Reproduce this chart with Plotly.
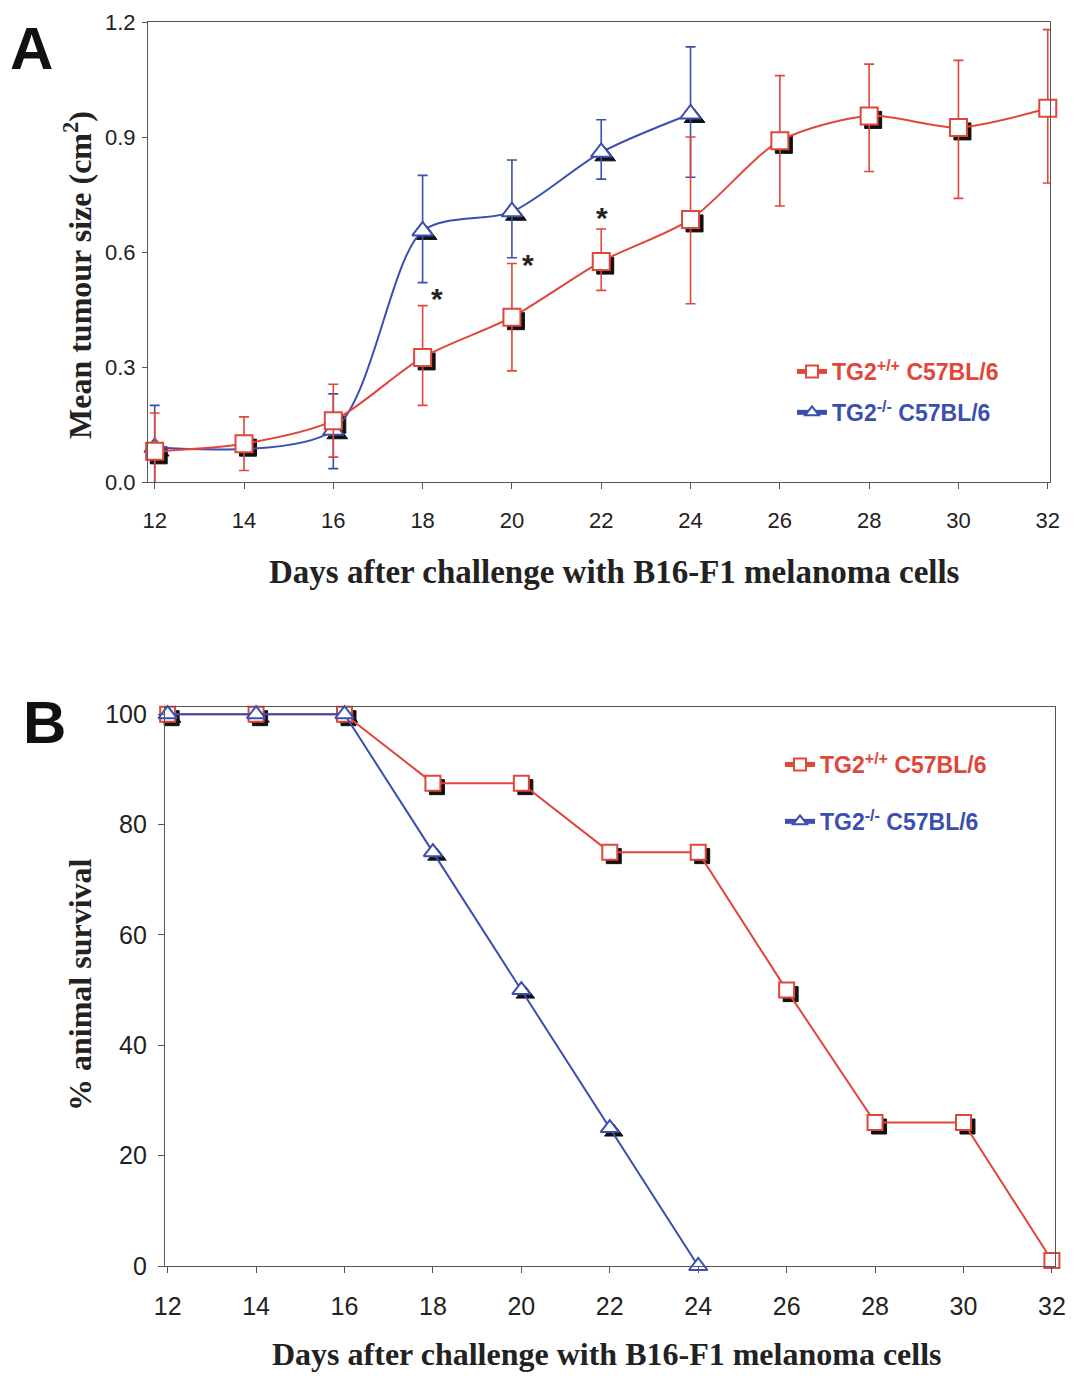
import plotly.graph_objects as go

# ---------------- data ----------------
# Panel A: mean tumour size (cm^2)
days_a = [12, 14, 16, 18, 20, 22, 24, 26, 28, 30, 32]
wt_mean = [0.08, 0.10, 0.16, 0.325, 0.43, 0.575, 0.685, 0.89, 0.955, 0.925, 0.975]
wt_upper = [0.18, 0.17, 0.255, 0.46, 0.57, 0.66, 0.90, 1.06, 1.09, 1.10, 1.18]
wt_lower = [-0.02, 0.03, 0.065, 0.20, 0.29, 0.50, 0.465, 0.72, 0.81, 0.74, 0.78]

ko_days_a = [12, 16, 18, 20, 22, 24]
ko_mean = [0.09, 0.135, 0.655, 0.705, 0.86, 0.96]
ko_upper = [0.20, 0.23, 0.80, 0.84, 0.945, 1.135]
ko_lower = [-0.01, 0.035, 0.52, 0.585, 0.79, 0.795]

# significance marks (day, value)
star_days = [18.32, 20.37, 22.02]
star_vals = [0.488, 0.579, 0.70]

# Panel B: % animal survival
days_b = [12, 14, 16, 18, 20, 22, 24, 26, 28, 30, 32]
wt_surv = [100, 100, 100, 87.5, 87.5, 75, 75, 50, 26, 26, 1]
ko_days_b = [12, 14, 16, 18, 20, 22, 24]
ko_surv = [100, 100, 100, 75, 50, 25, 0]

x_ticks = [12, 14, 16, 18, 20, 22, 24, 26, 28, 30, 32]
ya_ticks = [0.0, 0.3, 0.6, 0.9, 1.2]
yb_ticks = [0, 20, 40, 60, 80, 100]

wt_name = "TG2<sup>+/+</sup> C57BL/6"
ko_name = "TG2<sup>-/-</sup> C57BL/6"

# ---------------- style ----------------
RED = "#E0463A"
BLUE = "#3A4FB0"
OFF = 8                       # page body margin
W, H = 1077 - OFF, 1381 - 2 * OFF
TICKFONT = "Liberation Sans, Arial, sans-serif"
SERIF = "Liberation Serif, Times New Roman, serif"

# pixel boxes (screen coordinates) of the two plot areas
A_box = dict(l=148, r=1050, t=22, b=482)
B_box = dict(l=165, r=1055, t=707, b=1266)
A_xr = [11.85, 32.05]
A_yr = [0.0, 1.2]
B_xr = [11.94, 32.07]
B_yr = [0.0, 101.3]
SH = 4  # shadow offset in px


def px(sx):
    return (sx - OFF) / W


def py(sy):
    return 1 - (sy - OFF) / H


def dom_x(box):
    return [px(box["l"]), px(box["r"])]


def dom_y(box):
    return [py(box["b"]), py(box["t"])]


def shadow_range(xr, yr, box):
    dx = (xr[1] - xr[0]) / (box["r"] - box["l"]) * SH
    dy = (yr[1] - yr[0]) / (box["b"] - box["t"]) * SH
    return [xr[0] - dx, xr[1] - dx], [yr[0] + dy, yr[1] + dy]


fig = go.Figure()

# ---- shadows (base axes, drawn below) ----
sxa, sya = shadow_range(A_xr, A_yr, A_box)
sxb, syb = shadow_range(B_xr, B_yr, B_box)

for xs, ys, sym, xa, ya, sz in [
    (days_a, wt_mean, "square", "x", "y", 17),
    (ko_days_a, ko_mean, "triangle-up", "x", "y", 18),
    (days_b, wt_surv, "square", "x2", "y2", 15),
    (ko_days_b, ko_surv, "triangle-up", "x2", "y2", 16),
]:
    fig.add_trace(go.Scatter(
        x=xs, y=ys, mode="markers", xaxis=xa, yaxis=ya, showlegend=False,
        marker=dict(symbol=sym, size=sz, color="#111111",
                    line=dict(color="#111111", width=1)),
        cliponaxis=False, hoverinfo="skip"))

# ---- panel A ----
fig.add_trace(go.Scatter(
    x=ko_days_a, y=ko_mean, mode="lines+markers", name=ko_name,
    xaxis="x3", yaxis="y3", legend="legend", legendgroup="koA",
    legendrank=2,
    line=dict(color=BLUE, width=2, shape="spline", smoothing=0.8),
    marker=dict(symbol="triangle-up", size=18, color="white",
                line=dict(color=BLUE, width=2)),
    error_y=dict(type="data", symmetric=False,
                 array=[u - m for u, m in zip(ko_upper, ko_mean)],
                 arrayminus=[m - l for m, l in zip(ko_mean, ko_lower)],
                 color=BLUE, thickness=1.6, width=5),
    cliponaxis=False))
fig.add_trace(go.Scatter(
    x=days_a, y=wt_mean, mode="lines+markers", name=wt_name,
    xaxis="x3", yaxis="y3", legend="legend", legendgroup="wtA",
    legendrank=1,
    line=dict(color=RED, width=2, shape="spline", smoothing=0.8),
    marker=dict(symbol="square", size=17, color="white",
                line=dict(color=RED, width=2)),
    error_y=dict(type="data", symmetric=False,
                 array=[u - m for u, m in zip(wt_upper, wt_mean)],
                 arrayminus=[m - l for m, l in zip(wt_mean, wt_lower)],
                 color=RED, thickness=1.6, width=5),
    cliponaxis=False))

# ---- panel B ----
fig.add_trace(go.Scatter(
    x=days_b, y=wt_surv, mode="lines+markers", name=wt_name,
    xaxis="x4", yaxis="y4", legend="legend2", legendgroup="wtB",
    line=dict(color=RED, width=2),
    marker=dict(symbol="square", size=15, color="white",
                line=dict(color=RED, width=2)),
    cliponaxis=False))
fig.add_trace(go.Scatter(
    x=ko_days_b, y=ko_surv, mode="lines+markers", name=ko_name,
    xaxis="x4", yaxis="y4", legend="legend2", legendgroup="koB",
    line=dict(color=BLUE, width=2),
    marker=dict(symbol="triangle-up", size=16, color="white",
                line=dict(color=BLUE, width=2)),
    cliponaxis=False))

# ---------------- axes ----------------
hidden = dict(showline=False, showticklabels=False, ticks="", showgrid=False,
              zeroline=False, automargin=False)

common_vis = dict(showline=True, linecolor="#555555", linewidth=1.2,
                  mirror=True, ticks="outside", tickcolor="#555555",
                  showgrid=False, zeroline=False, automargin=False,
                  ticklabeloverflow="allow")

fig.update_layout(
    width=W, height=H,
    paper_bgcolor="white", plot_bgcolor="white",
    margin=dict(l=0, r=0, t=0, b=0, autoexpand=False),
    showlegend=True,
    # shadow axes
    xaxis=dict(domain=dom_x(A_box), range=sxa, anchor="y", **hidden),
    yaxis=dict(domain=dom_y(A_box), range=sya, anchor="x", **hidden),
    xaxis2=dict(domain=dom_x(B_box), range=sxb, anchor="y2", **hidden),
    yaxis2=dict(domain=dom_y(B_box), range=syb, anchor="x2", **hidden),
    # visible axes A
    xaxis3=dict(domain=dom_x(A_box), range=A_xr, anchor="y3", overlaying="x",
                tickvals=x_ticks, ticklen=6, ticklabelstandoff=12,
                tickfont=dict(family=TICKFONT, size=22, color="#222222"),
                **common_vis),
    yaxis3=dict(domain=dom_y(A_box), range=A_yr, anchor="x3", overlaying="y",
                tickvals=ya_ticks, tickformat=".1f", ticklen=5,
                ticklabelstandoff=2,
                tickfont=dict(family=TICKFONT, size=22, color="#222222"),
                **common_vis),
    # visible axes B
    xaxis4=dict(domain=dom_x(B_box), range=B_xr, anchor="y4", overlaying="x2",
                tickvals=x_ticks, ticklen=6, ticklabelstandoff=12,
                tickfont=dict(family=TICKFONT, size=25, color="#222222"),
                **common_vis),
    yaxis4=dict(domain=dom_y(B_box), range=B_yr, anchor="x4", overlaying="y2",
                tickvals=yb_ticks, ticklen=6, ticklabelstandoff=6,
                tickfont=dict(family=TICKFONT, size=25, color="#222222"),
                **common_vis),
    legend=dict(x=px(792), y=py(350), xanchor="left", yanchor="top",
                bgcolor="rgba(0,0,0,0)", traceorder="grouped",
                tracegroupgap=8, itemsizing="constant",
                font=dict(family=TICKFONT, size=23)),
    legend2=dict(x=px(780), y=py(743), xanchor="left", yanchor="top",
                 bgcolor="rgba(0,0,0,0)", traceorder="grouped",
                 tracegroupgap=24, itemsizing="constant",
                 font=dict(family=TICKFONT, size=23)),
)

# colour the legend texts per series
for tr in fig.data:
    if tr.name == wt_name:
        tr.name = f"<b><span style='color:{RED}'>{wt_name}</span></b>"
    elif tr.name == ko_name:
        tr.name = f"<b><span style='color:{BLUE}'>{ko_name}</span></b>"

# ---------------- annotations ----------------
ann = []
for d, v in zip(star_days, star_vals):
    ann.append(dict(x=d, y=v, xref="x3", yref="y3", text="<b>*</b>",
                    showarrow=False, yshift=-4, xanchor="center",
                    yanchor="middle",
                    font=dict(family=TICKFONT, size=30, color="#222222")))


def label(sx, sy, text, font, angle=0):
    return dict(x=px(sx), y=py(sy), text=text, xref="paper", yref="paper",
                showarrow=False, xanchor="center", yanchor="middle",
                textangle=angle, font=font)


title_font = dict(family=SERIF, size=32, color="#222222")
xtitle_font = dict(family=SERIF, size=33, color="#222222")
xtitle_font_b = dict(family=SERIF, size=32, color="#222222")
panel_font = dict(family=TICKFONT, size=60, color="#111111")
xtitle = "<b>Days after challenge with B16-F1 melanoma cells</b>"
ann += [
    label(31, 48, "<b>A</b>", panel_font),
    label(44, 722, "<b>B</b>", panel_font),
    label(614, 572, xtitle, xtitle_font),
    label(607, 1354, xtitle, xtitle_font_b),
    label(78, 275, "<b>Mean tumour size (cm<sup>2</sup>)</b>", title_font, -90),
    label(80, 985, "<b>% animal survival</b>", title_font, -90),
]
fig.update_layout(annotations=ann)

fig.write_html("out.html")
